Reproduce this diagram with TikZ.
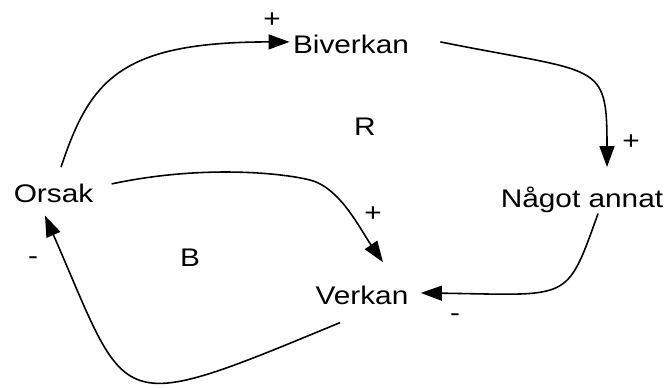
\documentclass[tikz,border=0pt]{standalone}
\usepackage{fontspec}
\setmainfont{Liberation Sans}
\usetikzlibrary{arrows.meta}

\begin{document}
\begin{tikzpicture}[x=0.02cm, y=-0.02cm,
    lbl/.style={inner sep=0pt, anchor=base, xscale=1.17, font=\fontsize{14.5}{17}\selectfont},
    link/.style={line width=0.9pt, -{Triangle[length=12pt, width=8.5pt]}}]
    \useasboundingbox (0,0) rectangle (666,387);

    % variables
    \node[lbl] (orsak) at (53.5,202) {Orsak};
    \node[lbl] (biverkan) at (351,53) {Biverkan};
    \node[lbl] (annat) at (582,207) {Något annat};
    \node[lbl] (verkan) at (362,304) {Verkan};

    % loop labels
    \node[lbl] (loopR) at (365,135) {R};
    \node[lbl] (loopB) at (190,266) {B};

    % links
    \draw[link] ([shift={(7.5,-16)}]orsak.north) .. controls (90,80) and (120,42) .. ([shift={(-3,-2)}]biverkan.west);
    \draw[link] ([shift={(31,-2)}]biverkan.east) .. controls (600,74) and (607,60) .. ([shift={(25,-19)}]annat.north);
    \draw[link] ([shift={(16,1)}]annat.south) .. controls (566,303) and (571,295) .. ([shift={(12,-2)}]verkan.east);
    \draw[link] ([shift={(-22,18)}]verkan.south) .. controls (110,418) and (130,410) .. ([shift={(-8.5,13)}]orsak.south);
    \draw[link] ([shift={(18,-9)}]orsak.east) .. controls (200,165) and (280,172.5) .. (310,180)
        .. controls (340,187.5) and (360,229) .. ([shift={(21,-23)}]verkan.north);

    % polarities
    \node[lbl] (p1) at (272,27) {+};
    \node[lbl] (p2) at (631,149) {+};
    \node[lbl] (p3) at (373,221) {+};
    \node[lbl] (m1) at (33,264) {-};
    \node[lbl] (m2) at (455,321) {-};
\end{tikzpicture}
\end{document}
